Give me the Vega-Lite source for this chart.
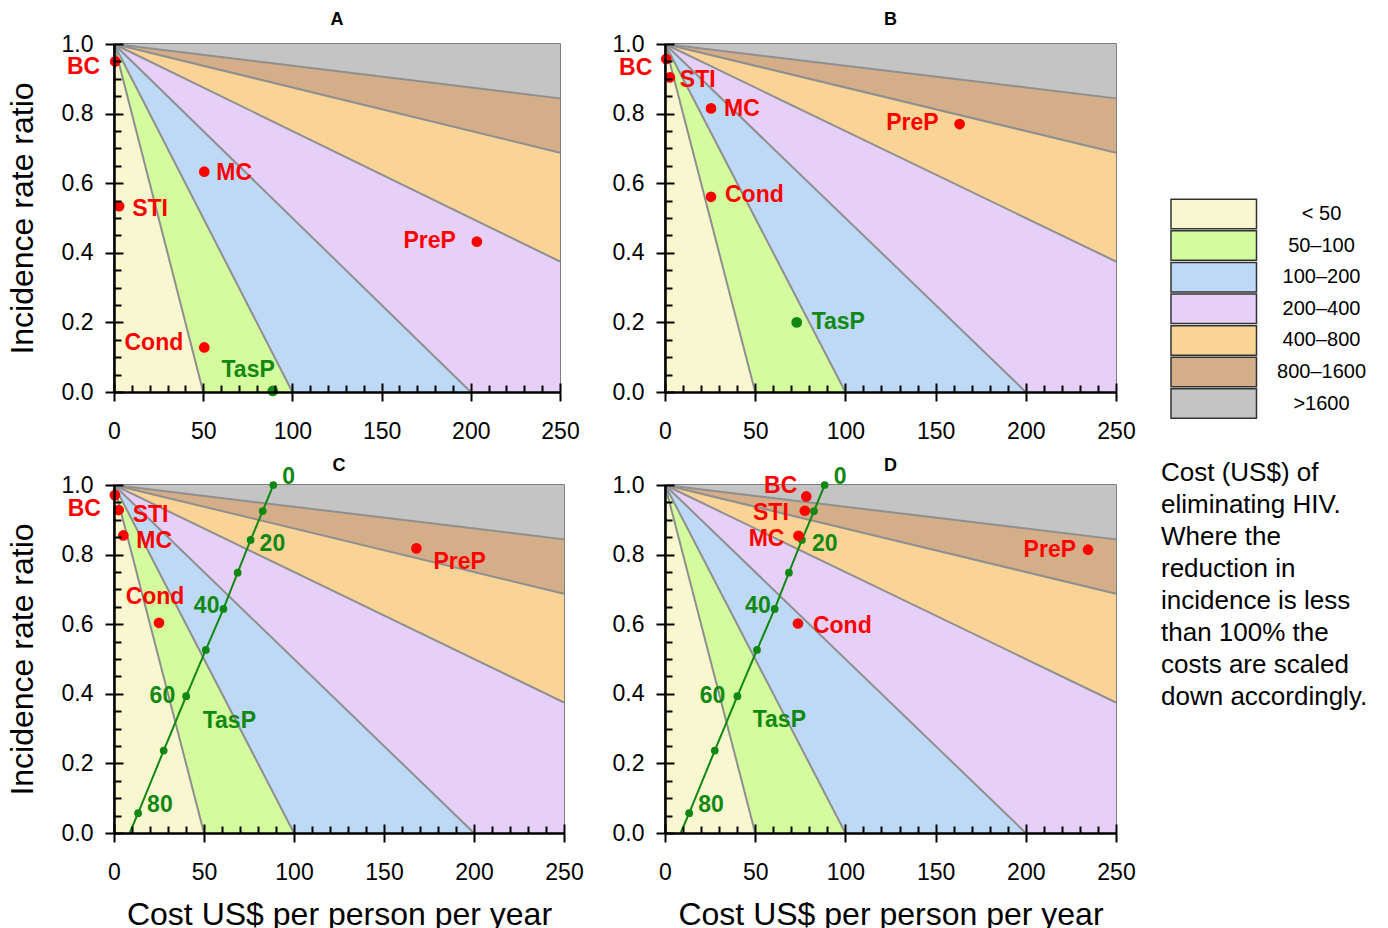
{
"$schema":"https://vega.github.io/schema/vega-lite/v6.json",
"background":"white",
"padding":{"left":5,"top":10,"right":5,"bottom":0},
"config":{
 "font":"Liberation Sans",
 "view":{"stroke":"#555555","strokeWidth":1.5},
 "axis":{"domainColor":"black","domainWidth":2.5,"tickColor":"black","tickWidth":2,"labelFontSize":23,"labelColor":"black","labelFont":"Liberation Sans","titleFont":"Liberation Sans","titleFontSize":32,"titleFontWeight":"normal","titleColor":"black","grid":false,"labelFlush":false,"labelOverlap":false},
 "title":{"fontSize":18,"fontWeight":"bold","font":"Liberation Sans","offset":4,"color":"black"},
 "text":{"font":"Liberation Sans","fontWeight":"bold","fontSize":23,"baseline":"middle"},
 "legend":{"orient":"none","legendX":1047,"legendY":159,"direction":"vertical","symbolType":"M-1.475,-1.475H7.075V1.475H-1.475Z","symbolSize":400,"symbolStrokeColor":"#333333","symbolStrokeWidth":1.5,"symbolOpacity":1,"symbolOffset":13.75,"labelOffset":124.75,"labelAlign":"center","labelFontSize":20,"labelFont":"Liberation Sans","labelColor":"black","rowPadding":-4.4,"titleOrient":"bottom","titleAnchor":"start","titleAlign":"left","titleBaseline":"top","titleFontSize":26,"titleFontWeight":"normal","titleFont":"Liberation Sans","titleColor":"black","titleLineHeight":32,"titlePadding":39,"titleLimit":500,"padding":0,"offset":0}
},
"datasets":{
 "bands":[
  {"band":"< 50","x":0,"y":0,"y2":1},{"band":"< 50","x":50,"y":0,"y2":0},
  {"band":"50–100","x":0,"y":1,"y2":1},{"band":"50–100","x":50,"y":0,"y2":0.5},{"band":"50–100","x":100,"y":0,"y2":0},
  {"band":"100–200","x":0,"y":1,"y2":1},{"band":"100–200","x":100,"y":0,"y2":0.5},{"band":"100–200","x":200,"y":0,"y2":0},
  {"band":"200–400","x":0,"y":1,"y2":1},{"band":"200–400","x":200,"y":0,"y2":0.5},{"band":"200–400","x":250,"y":0,"y2":0.375},
  {"band":"400–800","x":0,"y":1,"y2":1},{"band":"400–800","x":250,"y":0.375,"y2":0.6875},
  {"band":"800–1600","x":0,"y":1,"y2":1},{"band":"800–1600","x":250,"y":0.6875,"y2":0.84375},
  {"band":">1600","x":0,"y":1,"y2":1},{"band":">1600","x":250,"y":0.84375,"y2":1}
 ],
 "bounds":[
  {"x":0,"y":1,"x2":50,"y2":0},{"x":0,"y":1,"x2":100,"y2":0},{"x":0,"y":1,"x2":200,"y2":0},
  {"x":0,"y":1,"x2":250,"y2":0.375},{"x":0,"y":1,"x2":250,"y2":0.6875},{"x":0,"y":1,"x2":250,"y2":0.84375}
 ],
 "pts":[
  {"panel":"A","name":"BC","x":0.7,"y":0.95},{"panel":"A","name":"STI","x":2.9,"y":0.534},{"panel":"A","name":"MC","x":50.6,"y":0.633},{"panel":"A","name":"Cond","x":50.6,"y":0.128},{"panel":"A","name":"PreP","x":203.4,"y":0.432},{"panel":"A","name":"TasP","x":89,"y":0.003},
  {"panel":"B","name":"BC","x":0.7,"y":0.957},{"panel":"B","name":"STI","x":2.7,"y":0.904},{"panel":"B","name":"MC","x":25.5,"y":0.815},{"panel":"B","name":"Cond","x":25.5,"y":0.561},{"panel":"B","name":"PreP","x":163.3,"y":0.77},{"panel":"B","name":"TasP","x":73,"y":0.2},
  {"panel":"C","name":"BC","x":0.5,"y":0.971},{"panel":"C","name":"STI","x":2.6,"y":0.928},{"panel":"C","name":"MC","x":5.2,"y":0.855},{"panel":"C","name":"Cond","x":25,"y":0.604},{"panel":"C","name":"PreP","x":168,"y":0.818},
  {"panel":"D","name":"BC","x":78.3,"y":0.967},{"panel":"D","name":"STI","x":77.5,"y":0.926},{"panel":"D","name":"MC","x":74,"y":0.854},{"panel":"D","name":"Cond","x":73.7,"y":0.602},{"panel":"D","name":"PreP","x":234.5,"y":0.814}
 ],
 "tasp":[
  {"cov":0,"x":88.5,"y":1.0},{"cov":10,"x":82.6,"y":0.925},{"cov":20,"x":75.9,"y":0.842},{"cov":30,"x":68.7,"y":0.748},{"cov":40,"x":60.8,"y":0.644},{"cov":50,"x":51.0,"y":0.526},{"cov":60,"x":40.1,"y":0.393},{"cov":70,"x":27.6,"y":0.237},{"cov":80,"x":13.4,"y":0.057},{"cov":null,"x":8.7,"y":0}
 ],
 "names":[
  {"panel":"C","name":"TasP","x":64.1,"y":0.321},{"panel":"D","name":"TasP","x":63.4,"y":0.325}
 ]
},
"columns":2,
"spacing":{"row":93,"column":101},
"bounds":"flush",
"concat":[
{
 "width":446,"height":348,"title":"A",
 "encoding":{"x":{"field":"x","type":"quantitative","scale":{"domain":[0,250],"nice":false},"axis":null},"y":{"field":"y","type":"quantitative","scale":{"domain":[0,1],"nice":false},"axis":null}},
 "resolve":{"axis":{"x":"independent","y":"independent"}},
 "layer":[
  {"data":{"name":"bands"},"mark":{"type":"area","opacity":1},"encoding":{
   "x":{"field":"x","type":"quantitative","scale":{"domain":[0,250],"nice":false},"axis":{"values":[0,50,100,150,200,250],"title":null,"tickSize":9,"labelPadding":19,"zindex":1}},
   "y":{"field":"y","type":"quantitative","stack":null,"scale":{"domain":[0,1],"nice":false},"axis":{"values":[0,0.2,0.4,0.6,0.8,1],"format":".1f","title":"Incidence rate ratio","tickSize":9,"labelPadding":12,"titlePadding":22,"zindex":1}},
   "y2":{"field":"y2"},
   "color":{"field":"band","type":"nominal","scale":{"domain":["< 50","50–100","100–200","200–400","400–800","800–1600",">1600"],"range":["#f9f7cf","#d4fb9d","#bdd9f6","#e6d0f7","#fad497","#d4ad89","#c4c4c4"]},"title":["Cost (US$) of","eliminating HIV.","Where the","reduction in","incidence is less","than 100% the","costs are scaled","down accordingly."]}}},
  {"data":{"name":"bounds"},"mark":{"type":"rule","color":"#8f8f8f","strokeWidth":2},"encoding":{
   "x":{"field":"x","type":"quantitative","scale":{"domain":[0,250],"nice":false},"axis":{"values":[0,10,20,30,40,50,60,70,80,90,100,110,120,130,140,150,160,170,180,190,200,210,220,230,240,250],"orient":"bottom","labels":false,"domain":false,"title":null,"tickSize":{"condition":{"test":"datum.value % 50 === 0","value":-9},"value":-7},"zindex":1}},
   "y":{"field":"y","type":"quantitative","scale":{"domain":[0,1],"nice":false},"axis":{"values":[0,0.05,0.1,0.15,0.2,0.25,0.3,0.35,0.4,0.45,0.5,0.55,0.6,0.65,0.7,0.75,0.8,0.85,0.9,0.95,1],"orient":"left","labels":false,"domain":false,"title":null,"tickSize":{"condition":{"test":"round(datum.value*20) % 4 === 0","value":-9},"value":-7},"zindex":1}},
   "x2":{"field":"x2"},"y2":{"field":"y2"}}},
  {"data":{"name":"pts"},"transform":[{"filter":"datum.panel=='A' && datum.name=='TasP'"}],"mark":{"type":"circle","size":115,"color":"#118811","opacity":1}},
  {"data":{"name":"pts"},"transform":[{"filter":"datum.panel=='A' && datum.name!='TasP'"}],"mark":{"type":"circle","size":115,"color":"#ff0000","opacity":1}},
  {"data":{"name":"pts"},"transform":[{"filter":"datum.panel=='A' && datum.name=='BC'"}],"mark":{"type":"text","align":"right","dx":-15,"dy":6,"color":"#ff0000"},"encoding":{"text":{"field":"name"}}},
  {"data":{"name":"pts"},"transform":[{"filter":"datum.panel=='A' && datum.name=='STI'"}],"mark":{"type":"text","align":"left","dx":13,"dy":3,"color":"#ff0000"},"encoding":{"text":{"field":"name"}}},
  {"data":{"name":"pts"},"transform":[{"filter":"datum.panel=='A' && datum.name=='MC'"}],"mark":{"type":"text","align":"left","dx":12,"dy":1,"color":"#ff0000"},"encoding":{"text":{"field":"name"}}},
  {"data":{"name":"pts"},"transform":[{"filter":"datum.panel=='A' && datum.name=='Cond'"}],"mark":{"type":"text","align":"right","dx":-21,"dy":-4,"color":"#ff0000"},"encoding":{"text":{"field":"name"}}},
  {"data":{"name":"pts"},"transform":[{"filter":"datum.panel=='A' && datum.name=='PreP'"}],"mark":{"type":"text","align":"right","dx":-21,"dy":-1,"color":"#ff0000"},"encoding":{"text":{"field":"name"}}},
  {"data":{"name":"pts"},"transform":[{"filter":"datum.panel=='A' && datum.name=='TasP'"}],"mark":{"type":"text","align":"right","dx":2,"dy":-21,"color":"#118811"},"encoding":{"text":{"field":"name"}}}
 ]
},
{
 "width":451,"height":348,"title":"B",
 "encoding":{"x":{"field":"x","type":"quantitative","scale":{"domain":[0,250],"nice":false},"axis":null},"y":{"field":"y","type":"quantitative","scale":{"domain":[0,1],"nice":false},"axis":null}},
 "resolve":{"axis":{"x":"independent","y":"independent"}},
 "layer":[
  {"data":{"name":"bands"},"mark":{"type":"area","opacity":1},"encoding":{
   "x":{"field":"x","type":"quantitative","scale":{"domain":[0,250],"nice":false},"axis":{"values":[0,50,100,150,200,250],"title":null,"tickSize":9,"labelPadding":19,"zindex":1}},
   "y":{"field":"y","type":"quantitative","stack":null,"scale":{"domain":[0,1],"nice":false},"axis":{"values":[0,0.2,0.4,0.6,0.8,1],"format":".1f","title":null,"tickSize":9,"labelPadding":12,"zindex":1}},
   "y2":{"field":"y2"},
   "color":{"field":"band","type":"nominal","scale":{"domain":["< 50","50–100","100–200","200–400","400–800","800–1600",">1600"],"range":["#f9f7cf","#d4fb9d","#bdd9f6","#e6d0f7","#fad497","#d4ad89","#c4c4c4"]},"title":["Cost (US$) of","eliminating HIV.","Where the","reduction in","incidence is less","than 100% the","costs are scaled","down accordingly."]}}},
  {"data":{"name":"bounds"},"mark":{"type":"rule","color":"#8f8f8f","strokeWidth":2},"encoding":{
   "x":{"field":"x","type":"quantitative","scale":{"domain":[0,250],"nice":false},"axis":{"values":[0,10,20,30,40,50,60,70,80,90,100,110,120,130,140,150,160,170,180,190,200,210,220,230,240,250],"orient":"bottom","labels":false,"domain":false,"title":null,"tickSize":{"condition":{"test":"datum.value % 50 === 0","value":-9},"value":-7},"zindex":1}},
   "y":{"field":"y","type":"quantitative","scale":{"domain":[0,1],"nice":false},"axis":{"values":[0,0.05,0.1,0.15,0.2,0.25,0.3,0.35,0.4,0.45,0.5,0.55,0.6,0.65,0.7,0.75,0.8,0.85,0.9,0.95,1],"orient":"left","labels":false,"domain":false,"title":null,"tickSize":{"condition":{"test":"round(datum.value*20) % 4 === 0","value":-9},"value":-7},"zindex":1}},
   "x2":{"field":"x2"},"y2":{"field":"y2"}}},
  {"data":{"name":"pts"},"transform":[{"filter":"datum.panel=='B' && datum.name=='TasP'"}],"mark":{"type":"circle","size":115,"color":"#118811","opacity":1}},
  {"data":{"name":"pts"},"transform":[{"filter":"datum.panel=='B' && datum.name!='TasP'"}],"mark":{"type":"circle","size":115,"color":"#ff0000","opacity":1}},
  {"data":{"name":"pts"},"transform":[{"filter":"datum.panel=='B' && datum.name=='BC'"}],"mark":{"type":"text","align":"right","dx":-14,"dy":9,"color":"#ff0000"},"encoding":{"text":{"field":"name"}}},
  {"data":{"name":"pts"},"transform":[{"filter":"datum.panel=='B' && datum.name=='STI'"}],"mark":{"type":"text","align":"left","dx":10,"dy":3,"color":"#ff0000"},"encoding":{"text":{"field":"name"}}},
  {"data":{"name":"pts"},"transform":[{"filter":"datum.panel=='B' && datum.name=='MC'"}],"mark":{"type":"text","align":"left","dx":13,"dy":1,"color":"#ff0000"},"encoding":{"text":{"field":"name"}}},
  {"data":{"name":"pts"},"transform":[{"filter":"datum.panel=='B' && datum.name=='Cond'"}],"mark":{"type":"text","align":"left","dx":14,"dy":-2,"color":"#ff0000"},"encoding":{"text":{"field":"name"}}},
  {"data":{"name":"pts"},"transform":[{"filter":"datum.panel=='B' && datum.name=='PreP'"}],"mark":{"type":"text","align":"right","dx":-21,"dy":-1,"color":"#ff0000"},"encoding":{"text":{"field":"name"}}},
  {"data":{"name":"pts"},"transform":[{"filter":"datum.panel=='B' && datum.name=='TasP'"}],"mark":{"type":"text","align":"left","dx":15,"dy":0,"color":"#118811"},"encoding":{"text":{"field":"name"}}}
 ]
},
{
 "width":450,"height":348,"title":{"text":"C","offset":-9},
 "encoding":{"x":{"field":"x","type":"quantitative","scale":{"domain":[0,250],"nice":false},"axis":null},"y":{"field":"y","type":"quantitative","scale":{"domain":[0,1],"nice":false},"axis":null}},
 "resolve":{"axis":{"x":"independent","y":"independent"}},
 "layer":[
  {"data":{"name":"bands"},"mark":{"type":"area","opacity":1},"encoding":{
   "x":{"field":"x","type":"quantitative","scale":{"domain":[0,250],"nice":false},"axis":{"values":[0,50,100,150,200,250],"title":"Cost US$ per person per year","titlePadding":15,"tickSize":9,"labelPadding":19,"zindex":1}},
   "y":{"field":"y","type":"quantitative","stack":null,"scale":{"domain":[0,1],"nice":false},"axis":{"values":[0,0.2,0.4,0.6,0.8,1],"format":".1f","title":"Incidence rate ratio","tickSize":9,"labelPadding":12,"titlePadding":22,"zindex":1}},
   "y2":{"field":"y2"},
   "color":{"field":"band","type":"nominal","scale":{"domain":["< 50","50–100","100–200","200–400","400–800","800–1600",">1600"],"range":["#f9f7cf","#d4fb9d","#bdd9f6","#e6d0f7","#fad497","#d4ad89","#c4c4c4"]},"title":["Cost (US$) of","eliminating HIV.","Where the","reduction in","incidence is less","than 100% the","costs are scaled","down accordingly."]}}},
  {"data":{"name":"bounds"},"mark":{"type":"rule","color":"#8f8f8f","strokeWidth":2},"encoding":{
   "x":{"field":"x","type":"quantitative","scale":{"domain":[0,250],"nice":false},"axis":{"values":[0,10,20,30,40,50,60,70,80,90,100,110,120,130,140,150,160,170,180,190,200,210,220,230,240,250],"orient":"bottom","labels":false,"domain":false,"title":null,"tickSize":{"condition":{"test":"datum.value % 50 === 0","value":-9},"value":-7},"zindex":1}},
   "y":{"field":"y","type":"quantitative","scale":{"domain":[0,1],"nice":false},"axis":{"values":[0,0.05,0.1,0.15,0.2,0.25,0.3,0.35,0.4,0.45,0.5,0.55,0.6,0.65,0.7,0.75,0.8,0.85,0.9,0.95,1],"orient":"left","labels":false,"domain":false,"title":null,"tickSize":{"condition":{"test":"round(datum.value*20) % 4 === 0","value":-9},"value":-7},"zindex":1}},
   "x2":{"field":"x2"},"y2":{"field":"y2"}}},
  {"data":{"name":"tasp"},"mark":{"type":"line","color":"#118811","strokeWidth":2}},
  {"data":{"name":"tasp"},"transform":[{"filter":"isValid(datum.cov)"}],"mark":{"type":"circle","size":60,"color":"#118811","opacity":1}},
  {"data":{"name":"pts"},"transform":[{"filter":"datum.panel=='C'"}],"mark":{"type":"circle","size":115,"color":"#ff0000","opacity":1}},
  {"data":{"name":"pts"},"transform":[{"filter":"datum.panel=='C' && datum.name=='BC'"}],"mark":{"type":"text","align":"right","dx":-14,"dy":14,"color":"#ff0000"},"encoding":{"text":{"field":"name"}}},
  {"data":{"name":"pts"},"transform":[{"filter":"datum.panel=='C' && datum.name=='STI'"}],"mark":{"type":"text","align":"left","dx":14,"dy":5,"color":"#ff0000"},"encoding":{"text":{"field":"name"}}},
  {"data":{"name":"pts"},"transform":[{"filter":"datum.panel=='C' && datum.name=='MC'"}],"mark":{"type":"text","align":"left","dx":13,"dy":6,"color":"#ff0000"},"encoding":{"text":{"field":"name"}}},
  {"data":{"name":"pts"},"transform":[{"filter":"datum.panel=='C' && datum.name=='Cond'"}],"mark":{"type":"text","align":"center","dx":-4,"dy":-26,"color":"#ff0000"},"encoding":{"text":{"field":"name"}}},
  {"data":{"name":"pts"},"transform":[{"filter":"datum.panel=='C' && datum.name=='PreP'"}],"mark":{"type":"text","align":"left","dx":17,"dy":14,"color":"#ff0000"},"encoding":{"text":{"field":"name"}}},
  {"data":{"name":"tasp"},"transform":[{"filter":"datum.cov===0 || datum.cov===80"}],"mark":{"type":"text","align":"left","dx":9,"dy":-8,"color":"#118811"},"encoding":{"text":{"field":"cov","type":"nominal"}}},
  {"data":{"name":"tasp"},"transform":[{"filter":"datum.cov===20"}],"mark":{"type":"text","align":"left","dx":9,"dy":4,"color":"#118811"},"encoding":{"text":{"field":"cov","type":"nominal"}}},
  {"data":{"name":"tasp"},"transform":[{"filter":"datum.cov===40"}],"mark":{"type":"text","align":"right","dx":-4,"dy":-3,"color":"#118811"},"encoding":{"text":{"field":"cov","type":"nominal"}}},
  {"data":{"name":"tasp"},"transform":[{"filter":"datum.cov===60"}],"mark":{"type":"text","align":"right","dx":-11,"dy":0,"color":"#118811"},"encoding":{"text":{"field":"cov","type":"nominal"}}},
  {"data":{"name":"names"},"transform":[{"filter":"datum.panel=='C'"}],"mark":{"type":"text","align":"center","color":"#118811"},"encoding":{"text":{"field":"name"}}}
 ]
},
{
 "width":451,"height":348,"title":{"text":"D","offset":-9},
 "encoding":{"x":{"field":"x","type":"quantitative","scale":{"domain":[0,250],"nice":false},"axis":null},"y":{"field":"y","type":"quantitative","scale":{"domain":[0,1],"nice":false},"axis":null}},
 "resolve":{"axis":{"x":"independent","y":"independent"}},
 "layer":[
  {"data":{"name":"bands"},"mark":{"type":"area","opacity":1},"encoding":{
   "x":{"field":"x","type":"quantitative","scale":{"domain":[0,250],"nice":false},"axis":{"values":[0,50,100,150,200,250],"title":"Cost US$ per person per year","titlePadding":15,"tickSize":9,"labelPadding":19,"zindex":1}},
   "y":{"field":"y","type":"quantitative","stack":null,"scale":{"domain":[0,1],"nice":false},"axis":{"values":[0,0.2,0.4,0.6,0.8,1],"format":".1f","title":null,"tickSize":9,"labelPadding":12,"zindex":1}},
   "y2":{"field":"y2"},
   "color":{"field":"band","type":"nominal","scale":{"domain":["< 50","50–100","100–200","200–400","400–800","800–1600",">1600"],"range":["#f9f7cf","#d4fb9d","#bdd9f6","#e6d0f7","#fad497","#d4ad89","#c4c4c4"]},"title":["Cost (US$) of","eliminating HIV.","Where the","reduction in","incidence is less","than 100% the","costs are scaled","down accordingly."]}}},
  {"data":{"name":"bounds"},"mark":{"type":"rule","color":"#8f8f8f","strokeWidth":2},"encoding":{
   "x":{"field":"x","type":"quantitative","scale":{"domain":[0,250],"nice":false},"axis":{"values":[0,10,20,30,40,50,60,70,80,90,100,110,120,130,140,150,160,170,180,190,200,210,220,230,240,250],"orient":"bottom","labels":false,"domain":false,"title":null,"tickSize":{"condition":{"test":"datum.value % 50 === 0","value":-9},"value":-7},"zindex":1}},
   "y":{"field":"y","type":"quantitative","scale":{"domain":[0,1],"nice":false},"axis":{"values":[0,0.05,0.1,0.15,0.2,0.25,0.3,0.35,0.4,0.45,0.5,0.55,0.6,0.65,0.7,0.75,0.8,0.85,0.9,0.95,1],"orient":"left","labels":false,"domain":false,"title":null,"tickSize":{"condition":{"test":"round(datum.value*20) % 4 === 0","value":-9},"value":-7},"zindex":1}},
   "x2":{"field":"x2"},"y2":{"field":"y2"}}},
  {"data":{"name":"tasp"},"mark":{"type":"line","color":"#118811","strokeWidth":2}},
  {"data":{"name":"tasp"},"transform":[{"filter":"isValid(datum.cov)"}],"mark":{"type":"circle","size":60,"color":"#118811","opacity":1}},
  {"data":{"name":"pts"},"transform":[{"filter":"datum.panel=='D'"}],"mark":{"type":"circle","size":115,"color":"#ff0000","opacity":1}},
  {"data":{"name":"pts"},"transform":[{"filter":"datum.panel=='D' && datum.name=='BC'"}],"mark":{"type":"text","align":"right","dx":-9,"dy":-10,"color":"#ff0000"},"encoding":{"text":{"field":"name"}}},
  {"data":{"name":"pts"},"transform":[{"filter":"datum.panel=='D' && datum.name=='STI'"}],"mark":{"type":"text","align":"right","dx":-16,"dy":2,"color":"#ff0000"},"encoding":{"text":{"field":"name"}}},
  {"data":{"name":"pts"},"transform":[{"filter":"datum.panel=='D' && datum.name=='MC'"}],"mark":{"type":"text","align":"right","dx":-14,"dy":3,"color":"#ff0000"},"encoding":{"text":{"field":"name"}}},
  {"data":{"name":"pts"},"transform":[{"filter":"datum.panel=='D' && datum.name=='Cond'"}],"mark":{"type":"text","align":"left","dx":15,"dy":2,"color":"#ff0000"},"encoding":{"text":{"field":"name"}}},
  {"data":{"name":"pts"},"transform":[{"filter":"datum.panel=='D' && datum.name=='PreP'"}],"mark":{"type":"text","align":"right","dx":-12,"dy":0,"color":"#ff0000"},"encoding":{"text":{"field":"name"}}},
  {"data":{"name":"tasp"},"transform":[{"filter":"datum.cov===0 || datum.cov===80"}],"mark":{"type":"text","align":"left","dx":9,"dy":-8,"color":"#118811"},"encoding":{"text":{"field":"cov","type":"nominal"}}},
  {"data":{"name":"tasp"},"transform":[{"filter":"datum.cov===20"}],"mark":{"type":"text","align":"left","dx":10,"dy":4,"color":"#118811"},"encoding":{"text":{"field":"cov","type":"nominal"}}},
  {"data":{"name":"tasp"},"transform":[{"filter":"datum.cov===40"}],"mark":{"type":"text","align":"right","dx":-4,"dy":-3,"color":"#118811"},"encoding":{"text":{"field":"cov","type":"nominal"}}},
  {"data":{"name":"tasp"},"transform":[{"filter":"datum.cov===60"}],"mark":{"type":"text","align":"right","dx":-12,"dy":0,"color":"#118811"},"encoding":{"text":{"field":"cov","type":"nominal"}}},
  {"data":{"name":"names"},"transform":[{"filter":"datum.panel=='D'"}],"mark":{"type":"text","align":"center","color":"#118811"},"encoding":{"text":{"field":"name"}}}
 ]
}
]
}
